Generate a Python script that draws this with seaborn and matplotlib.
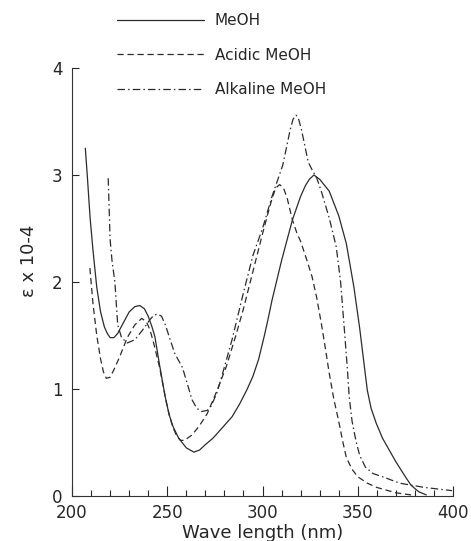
import numpy as np
import pandas as pd
import matplotlib
matplotlib.use("Agg")
import matplotlib.pyplot as plt
from matplotlib.ticker import MultipleLocator
import seaborn as sns

# values (wavelength in nm, epsilon x 1e-4)
meoh_wl = [207, 208, 209.5, 211, 213, 215, 217, 218.5, 220, 222, 224, 227, 230, 233, 235.6,
           238, 240, 242, 243.5, 246, 249, 251, 253, 256, 260, 264, 267, 270, 274, 278,
           281, 284, 288, 292, 295, 298, 301, 303, 305, 310, 315.7, 320, 322.5, 324.6,
           327, 330, 335, 340, 344, 348, 351, 355, 357, 359.7, 363, 366.5, 370, 375, 378,
           382, 386]
meoh_eps = [3.25, 3.0, 2.6, 2.3, 1.95, 1.72, 1.58, 1.52, 1.48, 1.48, 1.52, 1.62, 1.72, 1.77, 1.78,
            1.75, 1.68, 1.58, 1.49, 1.22, 0.92, 0.76, 0.65, 0.54, 0.45, 0.41, 0.43, 0.48, 0.54, 0.62,
            0.68, 0.74, 0.86, 1.0, 1.12, 1.28, 1.5, 1.66, 1.83, 2.2, 2.58, 2.8, 2.9, 2.96,
            3.0, 2.96, 2.85, 2.62, 2.36, 1.95, 1.57, 0.99, 0.82, 0.68, 0.54, 0.43, 0.32, 0.18, 0.1,
            0.04, 0.01]

acid_wl = [209.4, 211, 213, 215, 216.5, 218, 220, 222, 225, 229, 233, 236.6, 239, 241, 243,
           246, 249, 251, 253, 255, 257, 259, 263, 267, 271, 276, 281, 286, 290, 295,
           300, 303, 305, 307, 309, 311, 313, 315.7, 318, 320, 323, 326, 328.5, 331, 333,
           335, 337.5, 340, 342, 344, 347, 350, 355, 360, 370, 378]
acid_eps = [2.13, 1.8, 1.5, 1.28, 1.16, 1.1, 1.11, 1.18, 1.3, 1.48, 1.6, 1.66, 1.63, 1.55, 1.42,
            1.2, 0.92, 0.76, 0.64, 0.56, 0.52, 0.52, 0.57, 0.66, 0.77, 0.98, 1.21, 1.5, 1.75, 2.1,
            2.45, 2.65, 2.78, 2.88, 2.91, 2.88, 2.78, 2.58, 2.46, 2.38, 2.22, 2.05, 1.85, 1.6, 1.38,
            1.15, 0.9, 0.7, 0.52, 0.36, 0.25, 0.18, 0.12, 0.08, 0.03, 0.01]

alk_wl = [219, 220, 221, 222.5, 224, 226, 229, 233, 237, 241, 243, 245, 247, 249, 251,
          254, 258, 260.5, 263, 265.5, 268, 271, 273, 276, 278.5, 284, 290, 295, 300,
          305, 310.6, 312.5, 314.5, 316, 317.6, 319, 320.5, 322.5, 324, 326, 328.5, 331,
          335, 338.7, 341, 343, 344.5, 345.5, 347, 349, 351, 354, 358, 363, 372, 385, 399.5]
alk_eps = [2.97, 2.4, 2.2, 2.0, 1.6, 1.48, 1.43, 1.46, 1.55, 1.65, 1.69, 1.7, 1.68, 1.6, 1.49,
           1.33, 1.2, 1.05, 0.9, 0.82, 0.79, 0.8, 0.84, 0.96, 1.11, 1.46, 1.9, 2.25, 2.5,
           2.8, 3.09, 3.25, 3.42, 3.52, 3.56, 3.52, 3.42, 3.25, 3.12, 3.05, 2.97, 2.84,
           2.6, 2.33, 2.0, 1.55, 1.2, 0.93, 0.7, 0.52, 0.38, 0.27, 0.21, 0.18, 0.12, 0.08, 0.05]

labels = ["MeOH", "Acidic MeOH", "Alkaline MeOH"]

df = pd.concat([
    pd.DataFrame({"wl": meoh_wl, "eps": meoh_eps, "solvent": labels[0]}),
    pd.DataFrame({"wl": acid_wl, "eps": acid_eps, "solvent": labels[1]}),
    pd.DataFrame({"wl": alk_wl, "eps": alk_eps, "solvent": labels[2]}),
])

sns.set_theme(style="ticks")
plt.rcParams["font.family"] = ["DejaVu Sans"]

fig = plt.figure(figsize=(4.71, 5.41), dpi=100)
ax = fig.add_axes([72 / 471, 1 - 496 / 541, 381 / 471, 428 / 541])

dashes = {labels[0]: "", labels[1]: (5, 3), labels[2]: (6, 2.5, 1.2, 2.5)}
sns.lineplot(data=df, x="wl", y="eps", hue="solvent", style="solvent",
             palette=["#2b2b2b"] * 3, dashes=dashes, estimator=None, sort=False,
             linewidth=0.9, ax=ax)

ax.set_xlim(200, 400)
ax.set_ylim(0, 4)
ax.xaxis.set_major_locator(MultipleLocator(50))
ax.xaxis.set_minor_locator(MultipleLocator(10))
ax.yaxis.set_major_locator(MultipleLocator(1))
ax.tick_params(axis="x", which="major", direction="in", length=7, width=0.8, labelsize=12, pad=6)
ax.tick_params(axis="x", which="minor", direction="in", length=4, width=0.8)
ax.tick_params(axis="y", direction="in", length=5, width=0.8, labelsize=12, pad=7)
for s in ["top", "right"]:
    ax.spines[s].set_visible(False)
for s in ["left", "bottom"]:
    ax.spines[s].set_linewidth(0.8)
    ax.spines[s].set_color("#333333")

ax.set_xlabel("Wave length (nm)", fontsize=13, labelpad=1)
ax.set_ylabel("ε x 10-4", fontsize=13)
ax.yaxis.set_label_coords(-0.09, 0.55)

h, l = ax.get_legend_handles_labels()
ax.legend(h, l, loc="upper left", bbox_to_anchor=(117 / 471, 1 - 13 / 541),
          bbox_transform=fig.transFigure, frameon=False, fontsize=11,
          handlelength=5.7, handletextpad=0.7, labelspacing=1.28,
          borderpad=0, borderaxespad=0)

fig.savefig("out.png", dpi=100)
